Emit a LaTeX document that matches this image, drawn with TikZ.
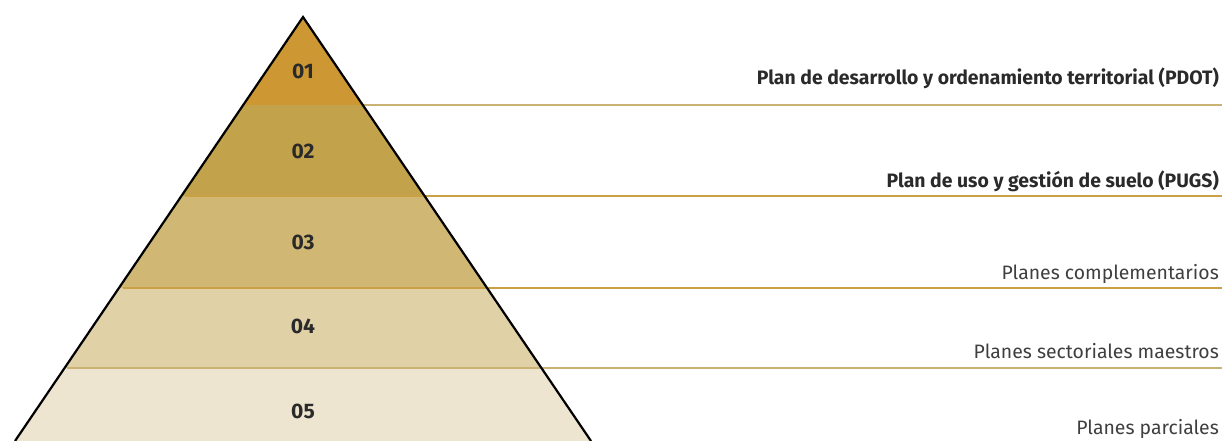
\documentclass[tikz,border=0pt]{standalone}
\usepackage{fontspec}
\setmainfont{Fira Sans}
\definecolor{bandA}{HTML}{CD9833}
\definecolor{bandB}{HTML}{C3A24C}
\definecolor{bandC}{HTML}{D1B774}
\definecolor{bandD}{HTML}{E0D1A6}
\definecolor{bandE}{HTML}{EEE5D0}
\definecolor{rulegold}{HTML}{C9A043}
\definecolor{rulepale}{HTML}{C9B274}
\definecolor{txt}{HTML}{2A2A2A}
\tikzset{
  numlabel/.style={font=\bfseries\fontsize{21}{24}\selectfont, text=txt, anchor=center, inner sep=0pt},
  boldlabel/.style={font=\bfseries\fontsize{19.4}{22}\selectfont, text=txt, anchor=base east, inner sep=0pt},
  planlabel/.style={font=\fontsize{19.4}{22}\selectfont, text=txt!90, anchor=base east, inner sep=0pt},
  levelrule/.style={line width=1.3pt, draw=rulegold},
}
\begin{document}
\begin{tikzpicture}[x=1pt,y=-1pt]
\useasboundingbox (0,0) rectangle (1222,441);
\coordinate (apex) at (303,17);
\coordinate (bl) at (15,441);
\coordinate (br) at (591,441);
\begin{scope}
  \clip (apex) -- (bl) -- (br) -- cycle;
  \fill[bandA] (0,0) rectangle (1222,105);
  \fill[bandB] (0,105) rectangle (1222,196);
  \fill[bandC] (0,196) rectangle (1222,288);
  \fill[bandD] (0,288) rectangle (1222,368);
  \fill[bandE] (0,368) rectangle (1222,441);
\end{scope}
% horizontal rules
\coordinate (r1a) at (362,105); \coordinate (r1b) at (1222,105);
\coordinate (r2a) at (185,196); \coordinate (r2b) at (1222,196);
\coordinate (r3a) at (123,288); \coordinate (r3b) at (1222,288);
\coordinate (r4a) at (67,368);  \coordinate (r4b) at (1222,368);
\draw[levelrule, draw=rulepale] (r1a) -- (r1b);
\draw[levelrule] (r2a) -- (r2b);
\draw[levelrule] (r3a) -- (r3b);
\draw[levelrule, draw=rulepale] (r4a) -- (r4b);
% outline
\draw[line width=2.2pt, line join=miter] (bl) -- (apex) -- (br);
% numbers
\node[numlabel] (n1) at (303,71) {01};
\node[numlabel] (n2) at (303,151) {02};
\node[numlabel] (n3) at (303,242) {03};
\node[numlabel] (n4) at (303,326) {04};
\node[numlabel] (n5) at (303,411) {05};
% labels
\node[boldlabel] (l1) at (1219,85) {Plan de desarrollo y ordenamiento territorial (PDOT)};
\node[boldlabel] (l2) at (1219,187) {Plan de uso y gestión de suelo (PUGS)};
\node[planlabel] (l3) at (1219,279) {Planes complementarios};
\node[planlabel] (l4) at (1219,358) {Planes sectoriales maestros};
\node[planlabel] (l5) at (1219,434) {Planes parciales};
\end{tikzpicture}
\end{document}
